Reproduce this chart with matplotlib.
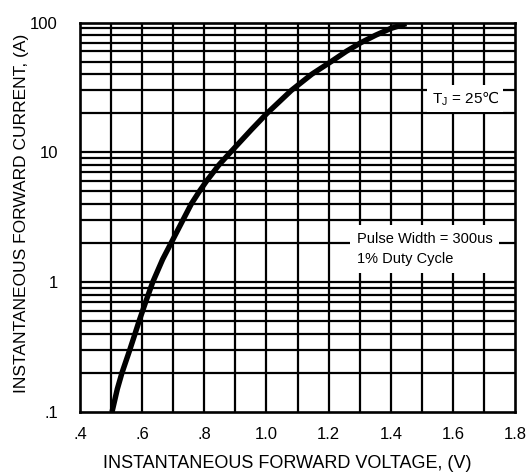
import numpy as np
import matplotlib
matplotlib.use('Agg')
from matplotlib import pyplot as plt
from matplotlib import font_manager
from matplotlib.ticker import FixedLocator, NullFormatter

# forward voltage (V) vs instantaneous forward current (A)
vf = [0.503, 0.520, 0.535, 0.560, 0.577, 0.590, 0.611, 0.634, 0.666, 0.693, 0.731,
      0.758, 0.784, 0.807, 0.847, 0.884, 0.952, 1.002, 1.080, 1.146, 1.208,
      1.257, 1.304, 1.352, 1.400, 1.450]
iF = [0.1, 0.15, 0.2, 0.3, 0.4, 0.5, 0.7, 1.0, 1.5, 2.0, 3.0,
      4.0, 5.0, 6.0, 8.0, 10.0, 15.0, 20.0, 30.0, 40.0, 50.0,
      60.0, 70.0, 80.0, 90.0, 98.0]

xticks = [0.4, 0.6, 0.8, 1.0, 1.2, 1.4, 1.6, 1.8]
xticklabels = ['.4', '.6', '.8', '1.0', '1.2', '1.4', '1.6', '1.8']
yticks = [0.1, 1, 10, 100]
yticklabels = ['.1', '1', '10', '100']

names = set(f.name for f in font_manager.fontManager.ttflist)
fam = [f for f in ['Liberation Sans', 'DejaVu Sans'] if f in names]
plt.rcParams['font.family'] = fam

fig = plt.figure(figsize=(5.28, 4.74), dpi=100)
ax = fig.add_axes([0.1515, 0.1308, 0.824, 0.8217])

ax.set_yscale('log')
ax.set_xlim(0.4, 1.8)
ax.set_ylim(0.1, 100)

# grid: every 0.1 V and every log minor step
vgrid = np.arange(0.5, 1.75, 0.1)
for v in vgrid:
    ax.axvline(v, color='black', lw=1.6, zorder=1)
hgrid = [m * d for d in [0.1, 1, 10] for m in range(1, 10)][1:]
for h in hgrid:
    ax.axhline(h, color='black', lw=1.6, zorder=1)

ax.plot(vf, iF, color='black', lw=3.9, solid_capstyle='butt', zorder=3)

ax.xaxis.set_major_locator(FixedLocator(xticks))
ax.set_xticklabels(xticklabels)
ax.yaxis.set_major_locator(FixedLocator(yticks))
ax.yaxis.set_minor_locator(FixedLocator([]))
ax.yaxis.set_minor_formatter(NullFormatter())
ax.set_yticklabels(yticklabels)
ax.tick_params(length=0, labelsize=12)
ax.tick_params(axis='x', pad=11)
ax.tick_params(axis='y', pad=16)

for s in ax.spines.values():
    s.set_linewidth(1.9)

ax.set_xlabel('INSTANTANEOUS FORWARD VOLTAGE, (V)', fontsize=13, labelpad=9, x=0.477)
ax.set_ylabel('INSTANTANEOUS FORWARD CURRENT, (A)', fontsize=12.5, labelpad=1, y=0.51)

ax.text(1.64, 25.9, 'T$_\\mathregular{J}$ = 25$\\mathrm{℃}$', fontsize=11, ha='center', va='center',
        zorder=4, bbox=dict(facecolor='white', edgecolor='none', pad=3))
ax.text(1.29, 1.80, 'Pulse Width = 300us\n1% Duty Cycle', fontsize=10.5, ha='left', va='center',
        linespacing=1.5, zorder=4, bbox=dict(facecolor='white', edgecolor='none', pad=5))

plt.savefig('out.png', dpi=100)
plt.close()
